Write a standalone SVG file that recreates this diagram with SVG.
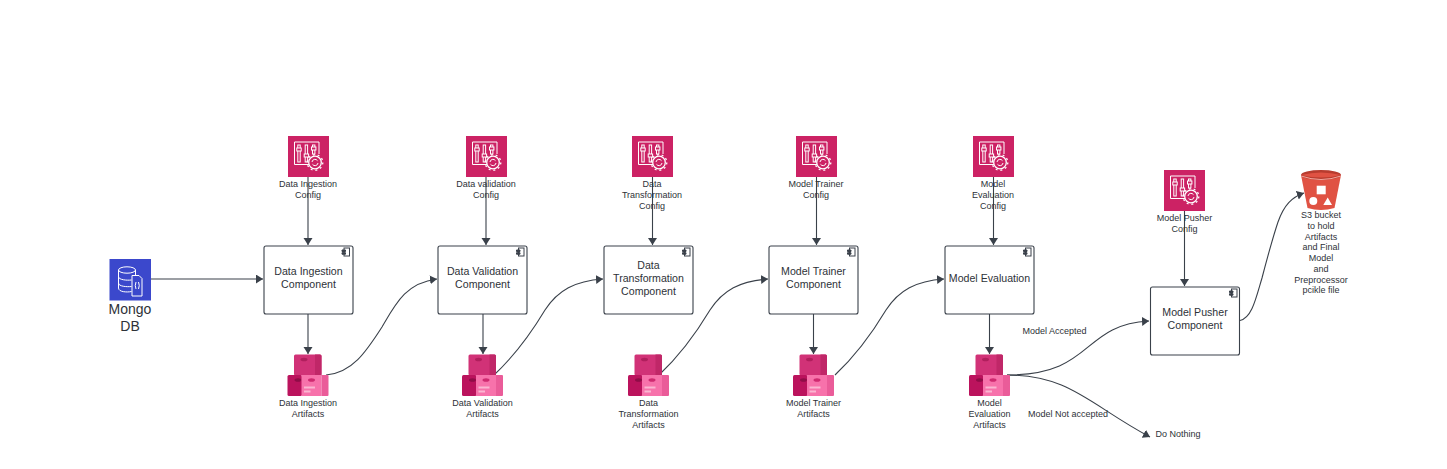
<svg xmlns="http://www.w3.org/2000/svg" width="1447" height="469" viewBox="0 0 1447 469">
<style>
text{font-family:"Liberation Sans",Arial,sans-serif;fill:#2e3238;text-anchor:middle}
.s{font-size:9px}
.m{font-size:10.600px}
.l{font-size:14px}
.box{fill:#fff;stroke:#3a414a;stroke-width:1.100}
.c{fill:none;stroke:#3a414a;stroke-width:1.100;marker-end:url(#a)}
.w{fill:none;stroke:#fff;stroke-width:1}
</style>
<defs>
<marker id="a" markerUnits="userSpaceOnUse" markerWidth="9" markerHeight="10" refX="7" refY="4.500" orient="auto"><path d="M0 0L7 4.500L0 9Z" fill="#3a414a"/></marker>
<g id="cfg">
<rect width="41" height="41" fill="#cc2264"/>
<path class="w" d="M24 28.500H6.500V6H31V18"/>
<g class="w"><rect x="9.800" y="9" width="2.400" height="17"/><rect x="8.800" y="12" width="4.400" height="3" fill="#cc2264"/><rect x="17.200" y="9" width="2.400" height="17"/><rect x="16.200" y="18" width="4.400" height="3" fill="#cc2264"/><rect x="24.500" y="9" width="2.400" height="9"/><rect x="23.500" y="11" width="4.400" height="3" fill="#cc2264"/></g>
<circle cx="27" cy="26.500" r="6.300" fill="#cc2264" stroke="#fff" stroke-width="1.300"/>
<circle cx="27" cy="26.500" r="7.800" fill="none" stroke="#fff" stroke-width="1.300" stroke-dasharray="2 2.900"/>
<path class="w" d="M24 26a3 3 0 0 1 5.500-1.300M30 27a3 3 0 0 1-5.500 1.300"/>
</g>
<g id="art">
<rect x="6.500" y="0" width="27.500" height="21" rx="1.500" fill="#d13277"/>
<path d="M27.500 0H32.500Q34 0 34 1.500V21H27.500Z" fill="#c02768"/>
<ellipse cx="16.500" cy="5" rx="3.500" ry="1.800" fill="#b01f5d"/>
<rect x="0" y="20.500" width="14.500" height="21" rx="1.500" fill="#bb135d"/>
<ellipse cx="10.500" cy="25.500" rx="3.500" ry="1.800" fill="#8f0d47"/>
<rect x="14" y="20.500" width="20" height="21" fill="#f772ab"/>
<path d="M34 20.500H40Q41 20.500 41 21.500V40.500Q41 41.500 40 41.500H34Z" fill="#ea5c99"/>
<ellipse cx="24" cy="25.500" rx="3.500" ry="1.800" fill="#cf2a70"/>
<path d="M16.500 33H27.500M16.500 37H23" stroke="#fbb6d2" stroke-width="1.800"/>
</g>
<g id="mod" fill="#fff" stroke="#3a414a" stroke-width="1"><rect x="2.500" y="0.500" width="5.500" height="8"/><path d="M0.500 2.500H4V4H0.500ZM0.500 5.200H4V6.700H0.500Z" fill="#3a414a"/></g>
</defs>

<g id="connectors">
<path class="c" d="M150 279H263"/>
<path class="c" d="M308 177V245"/>
<path class="c" d="M308 314V354"/>
<path class="c" d="M326 375C352 373 366 352 382 327C396 303 406 283 437 279"/>
<path class="c" d="M486 177V245"/>
<path class="c" d="M483 314V354"/>
<path class="c" d="M494 375C510 360 530 335 545 310C558 290 575 281 603 279"/>
<path class="c" d="M652.500 177V245"/>
<path class="c" d="M659 375C675 360 695 335 710 310C723 290 740 281 768 279"/>
<path class="c" d="M816.500 177V245"/>
<path class="c" d="M813.500 314V354"/>
<path class="c" d="M835 375C851 360 871 335 886 310C899 290 916 281 944 279"/>
<path class="c" d="M993.500 177V245"/>
<path class="c" d="M989.500 314V354"/>
<path class="c" d="M1007 375C1095 375 1080 325 1149 321"/>
<path class="c" d="M1007 375C1070 375 1090 405 1150 437"/>
<path class="c" d="M1184.500 211V286"/>
<path class="c" d="M1240 320.500C1252 318 1256 298 1262 278C1268 255 1272 240 1278 222C1284 205 1292 197 1304 193"/>
</g>

<g id="mongo">
<rect x="109.500" y="259" width="41.500" height="41.500" fill="#3b48cc"/>
<g class="w"><ellipse cx="127" cy="270" rx="8.500" ry="3.200"/><path d="M118.500 270V288C118.500 292 127 292.500 131.500 291.500M118.500 276.500C118.500 280 127 280.500 131.500 280M118.500 283C118.500 286.500 127 287 131.500 286.500M135.500 270V275"/></g>
<path d="M132 275.500H139L142 278.500V296H132Z" fill="#3b48cc" stroke="#fff"/>
<path class="w" d="M136 282Q134.500 285.500 136 289M138.500 282Q140 285.500 138.500 289"/>
<text x="130" y="314" class="l">Mongo</text><text x="130" y="331" class="l">DB</text>
</g>

<g id="cfg-ingestion"><use href="#cfg" x="288" y="136"/><text x="308" y="187" class="s">Data Ingestion</text><text x="308" y="198" class="s">Config</text></g>
<g id="cfg-validation"><use href="#cfg" x="466" y="136"/><text x="486" y="187" class="s">Data validation</text><text x="486" y="198" class="s">Config</text></g>
<g id="cfg-transformation"><use href="#cfg" x="632" y="136"/><text x="652" y="187" class="s">Data</text><text x="652" y="198" class="s">Transformation</text><text x="652" y="209" class="s">Config</text></g>
<g id="cfg-trainer"><use href="#cfg" x="796" y="136"/><text x="816" y="187" class="s">Model Trainer</text><text x="816" y="198" class="s">Config</text></g>
<g id="cfg-evaluation"><use href="#cfg" x="973" y="136"/><text x="993" y="187" class="s">Model</text><text x="993" y="198" class="s">Evaluation</text><text x="993" y="209" class="s">Config</text></g>
<g id="cfg-pusher"><use href="#cfg" x="1164" y="170"/><text x="1184.500" y="221" class="s">Model Pusher</text><text x="1184.500" y="232" class="s">Config</text></g>

<g id="comp-ingestion"><rect class="box" x="264" y="246" width="89" height="68" rx="2"/><use href="#mod" x="341.500" y="247.500"/><text x="308.500" y="275" class="m">Data Ingestion</text><text x="308.500" y="288" class="m">Component</text></g>
<g id="comp-validation"><rect class="box" x="438" y="246" width="89" height="68" rx="2"/><use href="#mod" x="516" y="247.500"/><text x="482.500" y="275" class="m">Data Validation</text><text x="482.500" y="288" class="m">Component</text></g>
<g id="comp-transformation"><rect class="box" x="604" y="246" width="89" height="68" rx="2"/><use href="#mod" x="682" y="247.500"/><text x="648.500" y="269" class="m">Data</text><text x="648.500" y="282" class="m">Transformation</text><text x="648.500" y="295" class="m">Component</text></g>
<g id="comp-trainer"><rect class="box" x="769" y="246" width="89" height="68" rx="2"/><use href="#mod" x="847" y="247.500"/><text x="813.500" y="275" class="m">Model Trainer</text><text x="813.500" y="288" class="m">Component</text></g>
<g id="comp-evaluation"><rect class="box" x="945" y="246" width="89" height="68" rx="2"/><use href="#mod" x="1023" y="247.500"/><text x="989.500" y="282" class="m">Model Evaluation</text></g>
<g id="comp-pusher"><rect class="box" x="1150.500" y="287" width="89" height="68" rx="2"/><use href="#mod" x="1229" y="288.500"/><text x="1195" y="316" class="m">Model Pusher</text><text x="1195" y="329" class="m">Component</text></g>

<g id="art-ingestion"><use href="#art" x="287.500" y="354.500"/><text x="308" y="406" class="s">Data Ingestion</text><text x="308" y="417" class="s">Artifacts</text></g>
<g id="art-validation"><use href="#art" x="462" y="354.500"/><text x="482.500" y="406" class="s">Data Validation</text><text x="482.500" y="417" class="s">Artifacts</text></g>
<g id="art-transformation"><use href="#art" x="628" y="354.500"/><text x="648.500" y="406" class="s">Data</text><text x="648.500" y="417" class="s">Transformation</text><text x="648.500" y="428" class="s">Artifacts</text></g>
<g id="art-trainer"><use href="#art" x="793" y="354.500"/><text x="813.500" y="406" class="s">Model Trainer</text><text x="813.500" y="417" class="s">Artifacts</text></g>
<g id="art-evaluation"><use href="#art" x="969" y="354.500"/><text x="989.500" y="406" class="s">Model</text><text x="989.500" y="417" class="s">Evaluation</text><text x="989.500" y="428" class="s">Artifacts</text></g>

<g id="s3">
<path d="M1301 175L1307.500 208Q1321 212 1334.500 208L1341 175Z" fill="#e05243"/>
<ellipse cx="1321" cy="175" rx="20" ry="5" fill="#b83c2f"/>
<path d="M1301 175Q1321 170 1341 175Q1321 180 1301 175Z" fill="#e05243"/>
<path d="M1301 176Q1321 183 1341 176" fill="none" stroke="#f2a79e" stroke-width="1"/>
<rect x="1316.700" y="185.700" width="9" height="8.600" fill="#fff"/>
<circle cx="1313.300" cy="201" r="4" fill="#fff"/>
<path d="M1327.700 197.500L1332 205H1323.300Z" fill="#fff"/>
<g class="s"><text x="1321" y="218">S3 bucket</text><text x="1321" y="229">to hold</text><text x="1321" y="240">Artifacts</text><text x="1321" y="250">and Final</text><text x="1321" y="261">Model</text><text x="1321" y="272">and</text><text x="1321" y="283">Preprocessor</text><text x="1321" y="293">pcikle file</text></g>
</g>

<g id="do-nothing"><text x="1178" y="437" class="s">Do Nothing</text></g>
<g id="labels"><text x="1054.500" y="334" class="s">Model Accepted</text><text x="1068" y="417" class="s">Model Not accepted</text></g>
</svg>
